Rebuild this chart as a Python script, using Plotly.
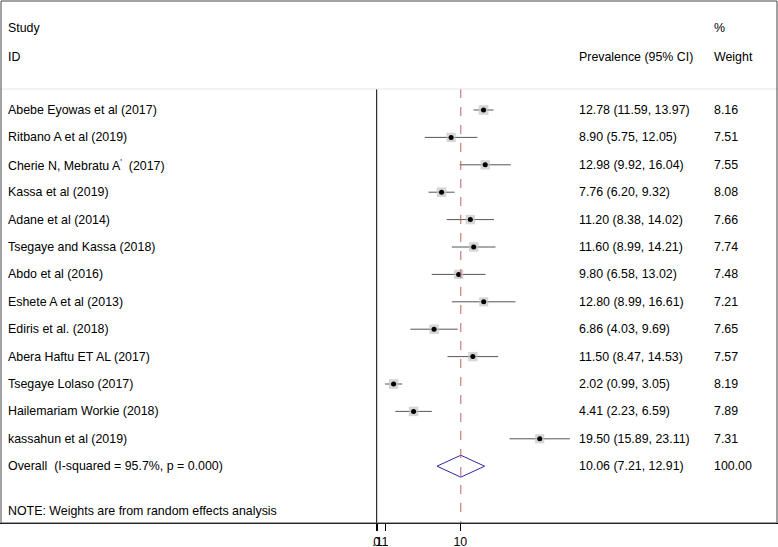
import plotly.graph_objects as go

studies = [
    "Abebe Eyowas et al (2017)",
    "Ritbano A et al (2019)",
    "Cherie N, Mebratu A<sup>'</sup>  (2017)",
    "Kassa et al (2019)",
    "Adane et al (2014)",
    "Tsegaye and Kassa (2018)",
    "Abdo et al (2016)",
    "Eshete A et al (2013)",
    "Ediris et al. (2018)",
    "Abera Haftu ET AL (2017)",
    "Tsegaye Lolaso (2017)",
    "Hailemariam Workie (2018)",
    "kassahun et al (2019)",
]
est = [12.78, 8.90, 12.98, 7.76, 11.20, 11.60, 9.80, 12.80, 6.86, 11.50, 2.02, 4.41, 19.50]
lo = [11.59, 5.75, 9.92, 6.20, 8.38, 8.99, 6.58, 8.99, 4.03, 8.47, 0.99, 2.23, 15.89]
hi = [13.97, 12.05, 16.04, 9.32, 14.02, 14.21, 13.02, 16.61, 9.69, 14.53, 3.05, 6.59, 23.11]
weights = [8.16, 7.51, 7.55, 8.08, 7.66, 7.74, 7.48, 7.21, 7.65, 7.57, 8.19, 7.89, 7.31]

overall_label = "Overall  (I-squared = 95.7%, p = 0.000)"
overall_est, overall_lo, overall_hi, overall_w = 10.06, 7.21, 12.91, 100.00
note = "NOTE: Weights are from random effects analysis"

tick_vals = [0, 0.1, 1, 10]
tick_text = ["0", ".1", "1", "10"]

W, H = 778, 547
MB = 24
PLOT_H = H - MB
PX_PER_UNIT = 8.36
X0_PX = 376.7
ROW_PX = 27.4
ROW0_PX = 110.0

x_range = [-X0_PX / PX_PER_UNIT, (W - X0_PX) / PX_PER_UNIT]
y_top = -ROW0_PX / ROW_PX
y_bot = y_top + PLOT_H / ROW_PX

n = len(studies)
rows = list(range(n))
overall_row = n
note_row = n + 1.63
sep_row = y_top + 89 / ROW_PX
hdr1_row = y_top + 28 / ROW_PX
hdr2_row = y_top + 57 / ROW_PX

FONT = "Liberation Sans, Arial, sans-serif"
FS = 12.4

fig = go.Figure()

# CI lines
for i in rows:
    fig.add_trace(go.Scatter(x=[lo[i], hi[i]], y=[i, i], mode="lines",
                             line=dict(color="#555555", width=1), hoverinfo="skip",
                             showlegend=False))

# weight boxes
fig.add_trace(go.Scatter(x=est, y=rows, mode="markers",
                         marker=dict(symbol="square", color="#c4c4c4",
                                     size=[3.4 * w ** 0.5 for w in weights],
                                     line=dict(width=0)),
                         showlegend=False, hoverinfo="skip"))
# point estimates
fig.add_trace(go.Scatter(x=est, y=rows, mode="markers",
                         marker=dict(symbol="circle", color="black", size=5),
                         showlegend=False))

# overall diamond
fig.add_trace(go.Scatter(x=[overall_lo, overall_est, overall_hi, overall_est, overall_lo],
                         y=[overall_row, overall_row - 0.4, overall_row, overall_row + 0.4, overall_row],
                         mode="lines", line=dict(color="#2a2aa0", width=1),
                         showlegend=False, hoverinfo="skip"))

shapes = []
# null line at 0
shapes.append(dict(type="line", xref="x", yref="y", x0=0, x1=0, y0=sep_row, y1=y_bot,
                   line=dict(color="black", width=1)))
# dashed overall line
shapes.append(dict(type="line", xref="x", yref="y", x0=overall_est, x1=overall_est,
                   y0=sep_row, y1=y_bot, line=dict(color="#c06060", width=1, dash="dash")))
# separator
shapes.append(dict(type="line", xref="paper", yref="y", x0=0, x1=1, y0=sep_row, y1=sep_row,
                   line=dict(color="#e4e4e4", width=1)))
# frame
shapes.append(dict(type="rect", xref="paper", yref="paper", x0=1 / W, x1=(W - 1) / W,
                   y0=0, y1=1 - 1 / PLOT_H, line=dict(color="#444444", width=1)))

annotations = []
def txt(x, y, s):
    annotations.append(dict(x=x, y=y, xref="paper", yref="y", text=s, showarrow=False,
                            xanchor="left", yanchor="middle",
                            font=dict(family=FONT, size=FS, color="black")))

COL_NAME = 6 / W
COL_EST = 577 / W
COL_W = 712 / W

txt(COL_NAME, hdr1_row, "Study")
txt(COL_NAME, hdr2_row, "ID")
txt(COL_EST, hdr2_row, "Prevalence (95% CI)")
txt(COL_W, hdr1_row, "%")
txt(COL_W, hdr2_row, "Weight")

for i in rows:
    txt(COL_NAME, i, studies[i])
    txt(COL_EST, i, f"{est[i]:.2f} ({lo[i]:.2f}, {hi[i]:.2f})")
    txt(COL_W, i, f"{weights[i]:.2f}")

txt(COL_NAME, overall_row, overall_label)
txt(COL_EST, overall_row, f"{overall_est:.2f} ({overall_lo:.2f}, {overall_hi:.2f})")
txt(COL_W, overall_row, f"{overall_w:.2f}")
txt(COL_NAME, note_row, note)

fig.update_layout(
    width=W, height=H,
    margin=dict(l=0, r=0, t=0, b=MB, autoexpand=False),
    paper_bgcolor="white", plot_bgcolor="white",
    shapes=shapes, annotations=annotations,
    xaxis=dict(range=x_range, tickvals=tick_vals, ticktext=tick_text,
               ticks="outside", ticklen=7, tickcolor="black", tickwidth=1,
               tickangle=0, automargin=False,
               showline=True, linecolor="black", linewidth=1,
               showgrid=False, zeroline=False,
               tickfont=dict(family=FONT, size=FS, color="black")),
    yaxis=dict(range=[y_bot, y_top], visible=False, showgrid=False, zeroline=False),
    showlegend=False,
)

fig.write_html("out.html", config={"displayModeBar": False},
               post_script="document.body.style.margin='0';document.body.style.overflow='hidden';")
